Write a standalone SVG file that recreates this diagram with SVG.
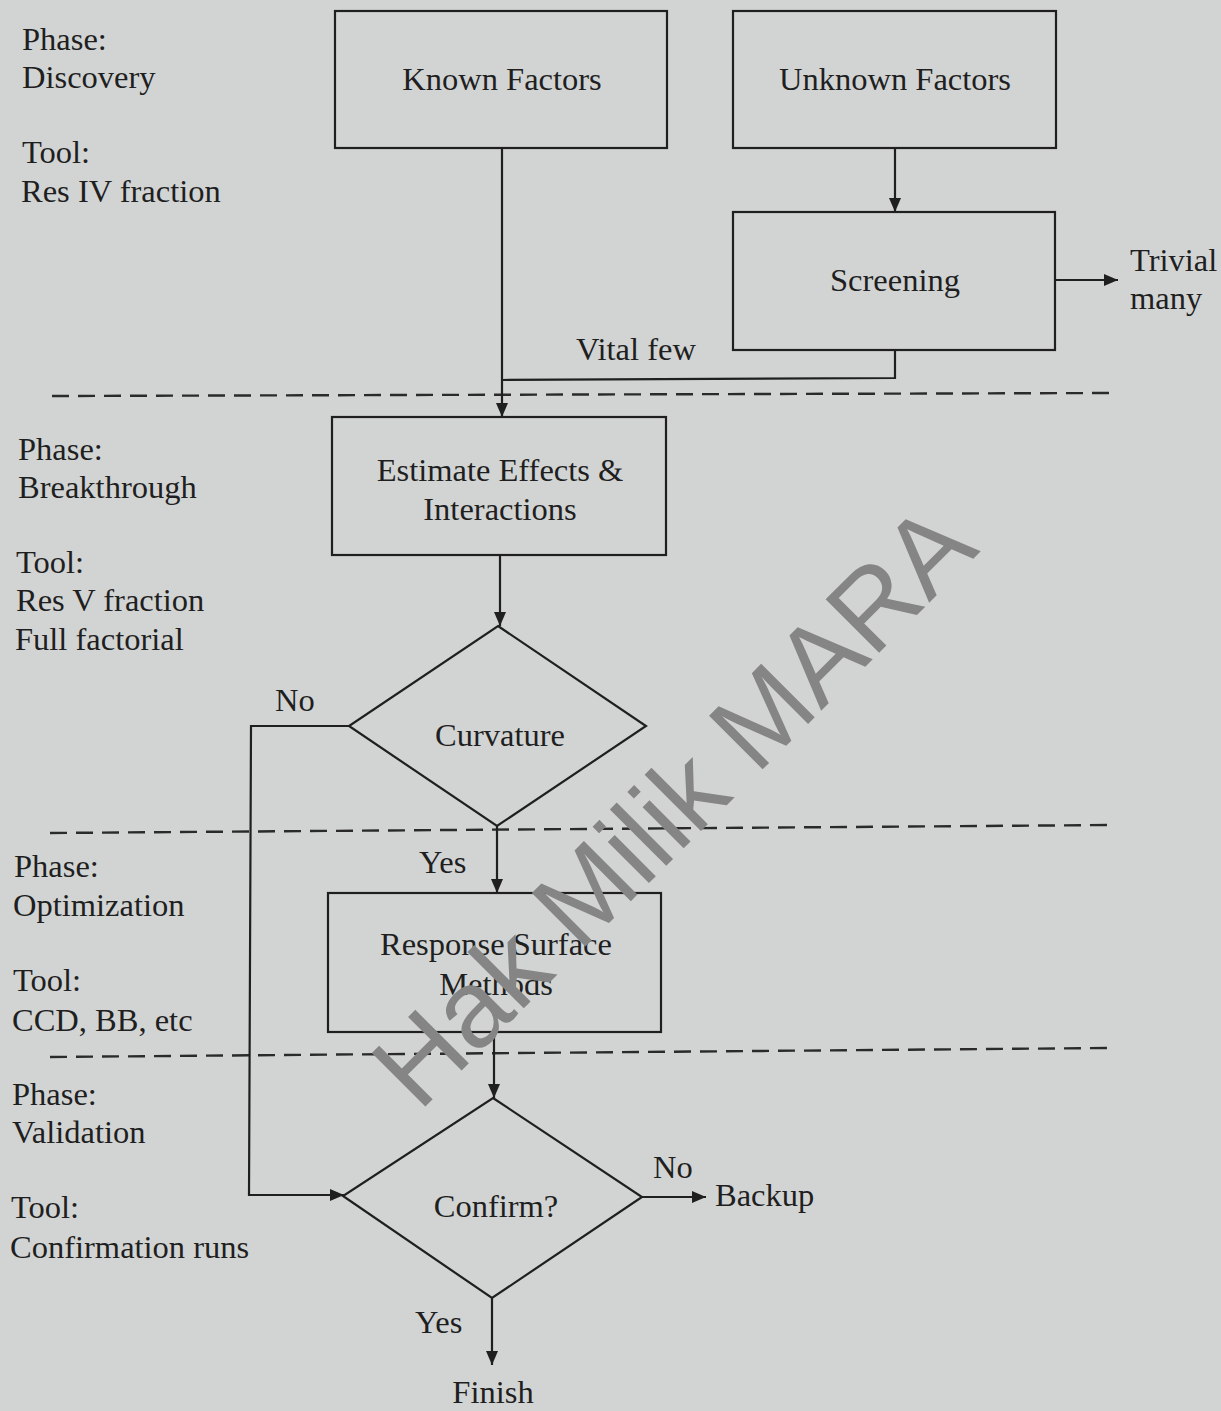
<svg xmlns="http://www.w3.org/2000/svg" width="1221" height="1411" viewBox="0 0 1221 1411">
<style>
.t{font-family:"Liberation Serif","Times New Roman",serif;font-size:32.5px;fill:#1f1f1f}
.c{text-anchor:middle}
.b{fill:none;stroke:#1f1f1f;stroke-width:2.2}
.l{fill:none;stroke:#1f1f1f;stroke-width:2.2}
.d{fill:none;stroke:#2a2a2a;stroke-width:2.4;stroke-dasharray:17 9}
.wm{font-family:"Liberation Sans",Arial,sans-serif;font-size:110px;fill:#858585;text-anchor:middle}
</style>
<defs>
<marker id="ah" viewBox="0 0 14 12" refX="14" refY="6" markerWidth="14" markerHeight="12" markerUnits="userSpaceOnUse" orient="auto">
<path d="M0,0 L14,6 L0,12 Z" fill="#1f1f1f"/>
</marker>
</defs>
<rect x="0" y="0" width="1221" height="1411" fill="#d2d4d4"/>

<g id="phase-labels" class="t">
<text x="22" y="50">Phase:</text>
<text x="22" y="88">Discovery</text>
<text x="22" y="163">Tool:</text>
<text x="21" y="202">Res IV fraction</text>
<text x="18" y="460">Phase:</text>
<text x="18" y="498">Breakthrough</text>
<text x="16" y="573">Tool:</text>
<text x="16" y="611">Res V fraction</text>
<text x="15" y="650">Full factorial</text>
<text x="14" y="877">Phase:</text>
<text x="13" y="916">Optimization</text>
<text x="13" y="991">Tool:</text>
<text x="12" y="1031">CCD, BB, etc</text>
<text x="12" y="1105">Phase:</text>
<text x="12" y="1143">Validation</text>
<text x="11" y="1218">Tool:</text>
<text x="10" y="1258">Confirmation runs</text>
</g>

<g id="dividers">
<line class="d" x1="52" y1="396" x2="1115" y2="393"/>
<line class="d" x1="50" y1="833" x2="1112" y2="825"/>
<line class="d" x1="50" y1="1057" x2="1108" y2="1048"/>
</g>

<g id="connectors">
<line class="l" x1="502" y1="148" x2="502" y2="417" marker-end="url(#ah)"/>
<line class="l" x1="895" y1="148" x2="895" y2="212" marker-end="url(#ah)"/>
<polyline class="l" points="895,350 895,378 502,380"/>
<line class="l" x1="1055" y1="280" x2="1118" y2="280" marker-end="url(#ah)"/>
<line class="l" x1="500" y1="555" x2="500" y2="626" marker-end="url(#ah)"/>
<polyline class="l" points="349,726 251,726 249,1195 344,1195" marker-end="url(#ah)"/>
<line class="l" x1="497" y1="826" x2="497" y2="893" marker-end="url(#ah)"/>
<line class="l" x1="494" y1="1032" x2="494" y2="1098" marker-end="url(#ah)"/>
<line class="l" x1="642" y1="1197" x2="706" y2="1197" marker-end="url(#ah)"/>
<line class="l" x1="492" y1="1298" x2="492" y2="1365" marker-end="url(#ah)"/>
</g>

<g id="edge-labels" class="t">
<text x="576" y="360">Vital few</text>
<text x="1130" y="271">Trivial</text>
<text x="1130" y="309">many</text>
<text x="275" y="711">No</text>
<text x="419" y="873">Yes</text>
<text x="653" y="1178">No</text>
<text x="715" y="1206">Backup</text>
<text x="415" y="1333">Yes</text>
<text x="493" y="1403" class="c">Finish</text>
</g>

<g id="known-factors">
<rect class="b" x="335" y="11" width="332" height="137"/>
<text class="t c" x="502" y="90">Known Factors</text>
</g>
<g id="unknown-factors">
<rect class="b" x="733" y="11" width="323" height="137"/>
<text class="t c" x="895" y="90">Unknown Factors</text>
</g>
<g id="screening">
<rect class="b" x="733" y="212" width="322" height="138"/>
<text class="t c" x="895" y="291">Screening</text>
</g>
<g id="estimate">
<rect class="b" x="332" y="417" width="334" height="138"/>
<text class="t c" x="500" y="481">Estimate Effects &amp;</text>
<text class="t c" x="500" y="520">Interactions</text>
</g>
<g id="curvature">
<polygon class="b" points="498,626 646,726 497,826 349,726"/>
<text class="t c" x="500" y="746">Curvature</text>
</g>
<g id="rsm">
<rect class="b" x="328" y="893" width="333" height="139"/>
<text class="t c" x="496" y="955">Response Surface</text>
<text class="t c" x="496" y="995">Methods</text>
</g>
<g id="confirm">
<polygon class="b" points="493,1098 642,1197 492,1298 343,1196"/>
<text class="t c" x="496" y="1217">Confirm?</text>
</g>

<text class="wm" transform="translate(700,832) rotate(-45)">Hak Milik MARA</text>
</svg>
